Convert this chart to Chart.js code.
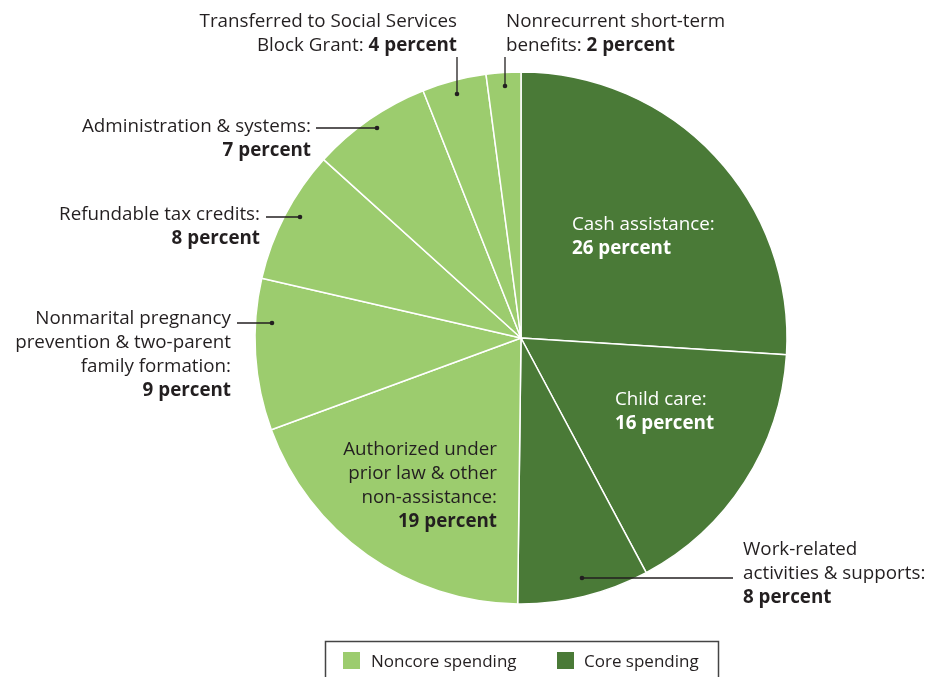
<!DOCTYPE html>
<html>
<head>
<meta charset="utf-8">
<script src="https://cdn.jsdelivr.net/npm/chart.js@4.4.0/dist/chart.umd.min.js"></script>
<style>
  html, body { margin: 0; padding: 0; background: #fff; }
  #wrap { width: 929px; height: 677px; position: relative; }
</style>
</head>
<body>
<div id="wrap"><canvas id="pie" width="929" height="677"></canvas></div>
<script>
// Shares of spending, clockwise from 12 o'clock.
const categories = [
  "Cash assistance",
  "Child care",
  "Work-related activities & supports",
  "Authorized under prior law & other non-assistance",
  "Nonmarital pregnancy prevention & two-parent family formation",
  "Refundable tax credits",
  "Administration & systems",
  "Transferred to Social Services Block Grant",
  "Nonrecurrent short-term benefits"
];
const shares = [26, 16.2, 8, 19.2, 9.2, 8.1, 7.3, 3.9, 2.1];
const spendingType = ["core", "core", "core", "noncore", "noncore", "noncore", "noncore", "noncore", "noncore"];
const legendLabels = ["Noncore spending", "Core spending"];

const LIGHT = "#9ccc6e";
const DARK = "#4a7a37";
const INK = "#231f20";
const FONT = "'Open Sans', sans-serif";
const SIZE = 18.8;

// Label layout: text lines (last one bold), anchor, alignment, optional leader line.
const labelLayout = [
  { lines: ["Cash assistance:"], x: 572, y: 230, align: "left", color: "#fff" },
  { lines: ["Child care:"], x: 615, y: 405, align: "left", color: "#fff" },
  { lines: ["Work-related", "activities & supports:"], x: 743, y: 555, align: "left",
    leader: [[733, 578], [582, 578]] },
  { lines: ["Authorized under", "prior law & other", "non-assistance:"], x: 497, y: 455, align: "right" },
  { lines: ["Nonmarital pregnancy", "prevention & two-parent", "family formation:"], x: 231, y: 324, align: "right",
    leader: [[237, 323], [272, 323]] },
  { lines: ["Refundable tax credits:"], x: 260, y: 220, align: "right",
    leader: [[266, 217], [300, 217]] },
  { lines: ["Administration & systems:"], x: 311, y: 132, align: "right",
    leader: [[316, 128], [377, 128]] },
  { lines: ["Transferred to Social Services", "Block Grant:"], x: 457, y: 27, align: "right",
    leader: [[457, 57], [457, 94]], inlineLast: true },
  { lines: ["Nonrecurrent short-term", "benefits:"], x: 506, y: 27, align: "left",
    leader: [[505, 57], [505, 86]], inlineLast: true }
];

const labelsPlugin = {
  id: "sliceLabels",
  afterDraw(chart) {
    const ctx = chart.ctx;
    ctx.save();
    ctx.textBaseline = "alphabetic";
    labelLayout.forEach((lab, i) => {
      const pct = Math.round(shares[i]) + " percent";
      const color = lab.color || INK;
      ctx.fillStyle = color;
      const lh = 24;
      const n = lab.lines.length;
      lab.lines.forEach((line, k) => {
        const y = lab.y + k * lh;
        if (lab.inlineLast && k === n - 1) {
          // "Block Grant: 4 percent" - regular + bold on one line
          ctx.font = `${SIZE}px ${FONT}`;
          const w1 = ctx.measureText(line + " ").width;
          ctx.font = `bold ${SIZE}px ${FONT}`;
          const w2 = ctx.measureText(pct).width;
          const x0 = lab.align === "right" ? lab.x - w1 - w2 : lab.x;
          ctx.textAlign = "left";
          ctx.font = `${SIZE}px ${FONT}`;
          ctx.fillText(line + " ", x0, y);
          ctx.font = `bold ${SIZE}px ${FONT}`;
          ctx.fillText(pct, x0 + w1, y);
        } else {
          ctx.font = `${SIZE}px ${FONT}`;
          ctx.textAlign = lab.align;
          ctx.fillText(line, lab.x, y);
        }
      });
      if (!lab.inlineLast) {
        ctx.font = `bold ${SIZE}px ${FONT}`;
        ctx.textAlign = lab.align;
        ctx.fillText(pct, lab.x, lab.y + n * lh);
      }
      if (lab.leader) {
        const [a, b] = lab.leader;
        ctx.strokeStyle = INK;
        ctx.lineWidth = 1.3;
        ctx.beginPath();
        ctx.moveTo(a[0], a[1]);
        ctx.lineTo(b[0], b[1]);
        ctx.stroke();
        ctx.beginPath();
        ctx.arc(b[0], b[1], 2.3, 0, Math.PI * 2);
        ctx.fillStyle = INK;
        ctx.fill();
      }
    });

    // Legend box
    ctx.strokeStyle = "#444";
    ctx.lineWidth = 1.5;
    ctx.strokeRect(325.5, 641.5, 393, 50);
    ctx.font = `17px ${FONT}`;
    ctx.textAlign = "left";
    ctx.fillStyle = LIGHT;
    ctx.fillRect(343, 652, 17, 17);
    ctx.fillStyle = INK;
    ctx.fillText(legendLabels[0], 371, 667);
    ctx.fillStyle = DARK;
    ctx.fillRect(557, 652, 17, 17);
    ctx.fillStyle = INK;
    ctx.fillText(legendLabels[1], 584, 667);
    ctx.restore();
  }
};

new Chart(document.getElementById("pie"), {
  type: "pie",
  data: {
    labels: categories,
    datasets: [{
      data: shares,
      backgroundColor: spendingType.map((t) => (t === "core" ? DARK : LIGHT)),
      borderColor: "#fff",
      borderWidth: 1.5
    }]
  },
  options: {
    responsive: false,
    animation: false,
    layout: { padding: { left: 254.25, right: 141.25, top: 71.25, bottom: 72.25 } },
    plugins: {
      legend: { display: false },
      tooltip: { enabled: false }
    }
  },
  plugins: [labelsPlugin]
});
</script>
</body>
</html>
